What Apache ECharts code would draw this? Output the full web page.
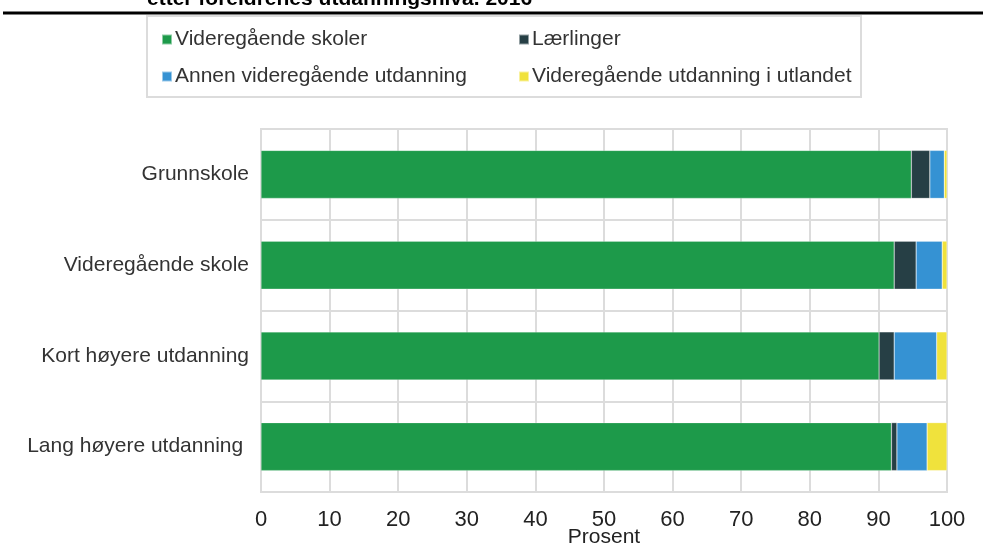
<!DOCTYPE html>
<html><head><meta charset="utf-8">
<script src="https://cdn.jsdelivr.net/npm/echarts@6/dist/echarts.min.js"></script>
<style>html,body{margin:0;padding:0;background:#fff}#c{width:983px;height:550px}</style>
</head><body><div id="c"></div>
<script>
const categories = ["Grunnskole", "Videregående skole", "Kort høyere utdanning", "Lang høyere utdanning "];
const seriesNames = ["Videregående skoler", "Lærlinger", "Annen videregående utdanning", "Videregående utdanning i utlandet"];
const vgSkoler = [94.8, 92.3, 90.1, 91.9];
const laerlinger = [2.7, 3.2, 2.2, 0.8];
const annen = [2.1, 3.8, 6.2, 4.4];
const utlandet = [0.4, 0.7, 1.5, 2.9];
const xTicks = [0, 10, 20, 30, 40, 50, 60, 70, 80, 90, 100];
const titleText = "etter foreldrenes utdanningsnivå. 2016";
const colors = ["#1d9a4a", "#263f45", "#3592d3", "#f0e23c"];
const values = [vgSkoler, laerlinger, annen, utlandet];
const FONT = '"Liberation Sans", Arial, sans-serif';

const chart = echarts.init(document.getElementById('c'));
chart.setOption({
  animation: false,
  textStyle: { fontFamily: FONT },
  graphic: [
    { type: 'text', left: 147, top: -11, style: { text: titleText, font: 'bold 21px ' + FONT, fill: '#000' } },
    { type: 'line', shape: { x1: 3, y1: 13, x2: 983, y2: 13 }, style: { stroke: '#000', lineWidth: 3 } },
    { type: 'rect', shape: { x: 147, y: 16, width: 714, height: 81 }, style: { fill: 'none', stroke: '#dcdcdc', lineWidth: 2 } }
  ],
  legend: [
    { orient: 'vertical', left: 156, top: 24, itemWidth: 10, itemHeight: 10, itemGap: 16, icon: 'rect',
      data: [seriesNames[0], seriesNames[2]], textStyle: { fontSize: 21, color: '#333', fontFamily: FONT, padding: [0,0,0,-2] } },
    { orient: 'vertical', left: 513, top: 24, itemWidth: 10, itemHeight: 10, itemGap: 16, icon: 'rect',
      data: [seriesNames[1], seriesNames[3]], textStyle: { fontSize: 21, color: '#333', fontFamily: FONT, padding: [0,0,0,-2] } }
  ],
  grid: { left: 261, right: 36, top: 129, bottom: 58, show: true, borderColor: '#dcdcdc', borderWidth: 2, outerBoundsMode: 'none', containLabel: false },
  xAxis: {
    type: 'value', min: xTicks[0], max: xTicks[xTicks.length - 1], interval: 10,
    axisLine: { show: false }, axisTick: { show: false },
    splitLine: { show: true, lineStyle: { color: '#dcdcdc', width: 2 } },
    axisLabel: { fontSize: 22, color: '#222', margin: 17, fontFamily: FONT },
    name: 'Prosent', nameLocation: 'middle', nameGap: 35, nameMoveOverlap: false,
    nameTextStyle: { fontSize: 21, color: '#222', fontFamily: FONT }
  },
  yAxis: {
    type: 'category', data: categories, inverse: true,
    axisLine: { show: false }, axisTick: { show: false },
    splitLine: { show: true, lineStyle: { color: '#dcdcdc', width: 2 } },
    axisLabel: { fontSize: 21, color: '#333', margin: 12, fontFamily: FONT }
  },
  series: seriesNames.map((n, i) => ({
    name: n, type: 'bar', stack: 'a', data: values[i], barWidth: 48,
    itemStyle: { color: colors[i], borderColor: 'rgba(255,255,255,0.5)', borderWidth: 0.5 }
  }))
});
</script></body></html>
